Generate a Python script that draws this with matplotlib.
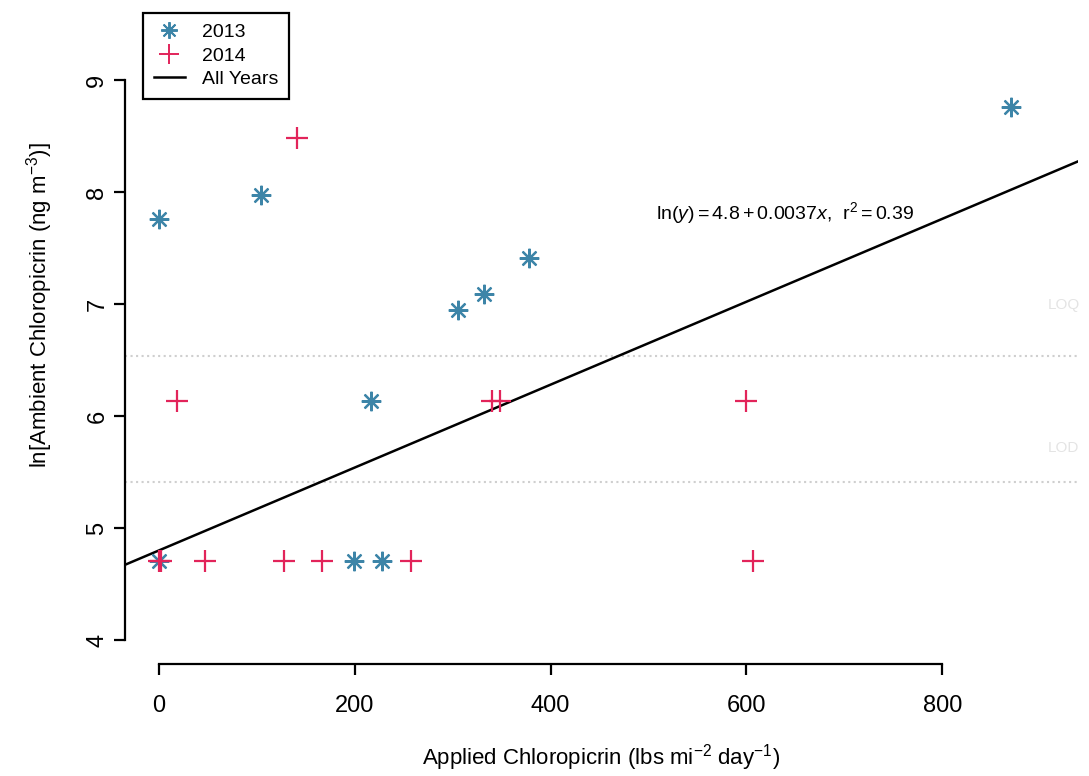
import matplotlib.pyplot as plt
from matplotlib.lines import Line2D

plt.rcParams["font.family"] = ["Liberation Sans", "DejaVu Sans"]
plt.rcParams["mathtext.fontset"] = "custom"
plt.rcParams["mathtext.rm"] = "Liberation Sans"
plt.rcParams["mathtext.it"] = "Liberation Sans:italic"

# data
x_2013 = [0, 0, 104, 217, 305, 332, 378, 199, 228, 870]
y_2013 = [7.76, 4.71, 7.97, 6.13, 6.95, 7.09, 7.41, 4.71, 4.71, 8.76]
x_2014 = [0, 2, 18, 141, 47, 128, 167, 257, 340, 348, 600, 607]
y_2014 = [4.71, 4.71, 6.13, 8.48, 4.71, 4.71, 4.71, 4.71, 6.13, 6.13, 6.13, 4.71]
intercept = 4.8
slope = 0.0037
loq_level = 6.54
lod_level = 5.41
x_ticks = [0, 200, 400, 600, 800]
y_ticks = [4, 5, 6, 7, 8, 9]

blue = "#3d85a8"
red = "#e2245a"

fig = plt.figure(figsize=(10.89, 7.76), dpi=100)
W, H = 1089, 776
left, right, top, bottom = 125, 1078, 13, 664
ax = fig.add_axes([left / W, 1 - bottom / H, (right - left) / W, (bottom - top) / H])

xlim = (-34.7, 938.7)
ylim = (3.786, 9.598)
ax.set_xlim(*xlim)
ax.set_ylim(*ylim)

# detection limits
ax.axhline(loq_level, color="#cfcfcf", linestyle=":", linewidth=1.5)
ax.axhline(lod_level, color="#cfcfcf", linestyle=":", linewidth=1.5)
fig.text(1048 / W, 1 - 305 / H, "LOQ", fontsize=11, color="#e4e4e4", va="center")
fig.text(1048 / W, 1 - 448 / H, "LOD", fontsize=11, color="#e4e4e4", va="center")

# regression for all years
ax.plot(list(xlim), [intercept + slope * xlim[0], intercept + slope * xlim[1]],
        color="black", linewidth=1.8)

ax.plot(x_2013, y_2013, linestyle="none", marker=(8, 2, 0), markersize=14,
        markeredgewidth=1.6, color=blue)
ax.plot(x_2014, y_2014, linestyle="none", marker="+", markersize=16,
        markeredgewidth=1.6, color=red)

ax.text(639, 7.81, r"$\ln(\mathit{y}) = 4.8 + 0.0037\mathit{x}$,  $\mathrm{r}^2 = 0.39$",
        fontsize=14, ha="center", va="center")

# R-style axes
for side in ("top", "right"):
    ax.spines[side].set_visible(False)
ax.spines["left"].set_bounds(4, 9)
ax.spines["bottom"].set_bounds(0, 800)
ax.spines["left"].set_linewidth(1.6)
ax.spines["bottom"].set_linewidth(1.6)
ax.set_xticks(x_ticks)
ax.set_yticks(y_ticks)
ax.tick_params(axis="both", length=8, width=1.6, labelsize=17)
ax.tick_params(axis="x", pad=14)
ax.tick_params(axis="y", pad=4, labelrotation=90)
for lab in ax.get_yticklabels():
    lab.set_va("center")

ax.set_xlabel(r"Applied Chloropicrin (lbs mi$^{-2}$ day$^{-1}$)", fontsize=16)
ax.set_ylabel(r"ln[Ambient Chloropicrin (ng m$^{-3}$)]", fontsize=16)
ax.xaxis.set_label_coords(0.5, -(758 - bottom) / (bottom - top), transform=ax.transAxes)
ax.xaxis.label.set_va("center")
ax.yaxis.set_label_coords(-(left - 40) / (right - left), (bottom - 305) / (bottom - top))
ax.yaxis.label.set_va("center")

handles = [
    Line2D([], [], linestyle="none", marker=(8, 2, 0), markersize=12, markeredgewidth=1.4, color=blue),
    Line2D([], [], linestyle="none", marker="+", markersize=14, markeredgewidth=1.4, color=red),
    Line2D([], [], color="black", linewidth=1.8),
]
leg = ax.legend(handles, ["2013", "2014", "All Years"], loc="upper left",
                bbox_to_anchor=(18 / (right - left), 1.0), borderaxespad=0,
                fancybox=False, framealpha=1, edgecolor="black", fontsize=14,
                handlelength=1.6, labelspacing=0.3, borderpad=0.55, handletextpad=0.9)
leg.get_frame().set_linewidth(1.6)

fig.savefig("out.png", dpi=100)
